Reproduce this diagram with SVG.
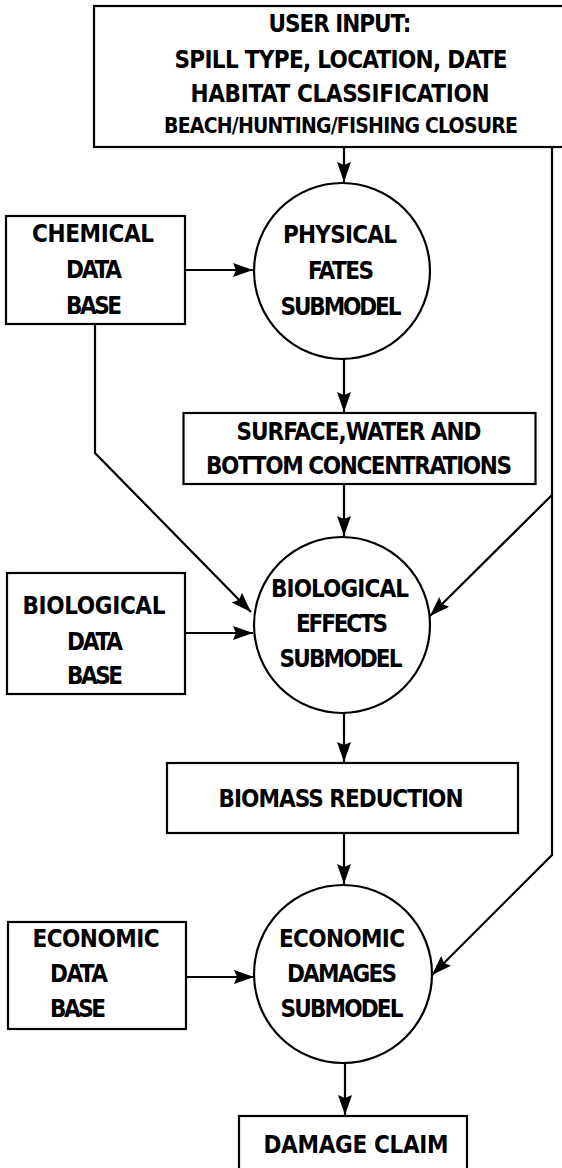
<svg xmlns="http://www.w3.org/2000/svg" width="562" height="1168" viewBox="0 0 562 1168">
<style>
.box{fill:#fff;stroke:#000;stroke-width:2.2}
.c{fill:#fff;stroke:#000;stroke-width:2.2}
.ln{fill:none;stroke:#000;stroke-width:2.2}
text{font-family:"DejaVu Sans Condensed","DejaVu Sans",sans-serif;font-weight:bold;font-size:24px;fill:#000;text-anchor:middle}
.s{font-size:21px}
.l{text-anchor:start}
</style>
<defs>
<marker id="ah" markerUnits="userSpaceOnUse" markerWidth="22" markerHeight="14" refX="20" refY="7" orient="auto">
<path d="M0,0 L20,7 L0,14 L3,7 z" fill="#000"/>
</marker>
</defs>
<g id="connectors">
<line class="ln" x1="344" y1="147" x2="344" y2="182" marker-end="url(#ah)"/>
<line class="ln" x1="185" y1="270" x2="253" y2="270" marker-end="url(#ah)"/>
<line class="ln" x1="344" y1="359" x2="344" y2="412" marker-end="url(#ah)"/>
<line class="ln" x1="344" y1="484" x2="344" y2="536" marker-end="url(#ah)"/>
<path class="ln" d="M95,324 V453 L251,612" marker-end="url(#ah)"/>
<path class="ln" d="M552,147 V855 L432,975" marker-end="url(#ah)"/>
<path class="ln" d="M552,495 L430,616" marker-end="url(#ah)"/>
<line class="ln" x1="185" y1="633" x2="253" y2="633" marker-end="url(#ah)"/>
<line class="ln" x1="344" y1="713" x2="344" y2="762" marker-end="url(#ah)"/>
<line class="ln" x1="344" y1="833" x2="344" y2="884" marker-end="url(#ah)"/>
<line class="ln" x1="186" y1="977" x2="254" y2="977" marker-end="url(#ah)"/>
<line class="ln" x1="345" y1="1063" x2="345" y2="1115" marker-end="url(#ah)"/>
</g>
<g id="user-input">
<rect class="box" x="94" y="6" width="500" height="141"/>
<text x="340" y="32" textLength="143">USER INPUT:</text>
<text x="341" y="68" textLength="333">SPILL TYPE, LOCATION, DATE</text>
<text x="340" y="102" textLength="299">HABITAT CLASSIFICATION</text>
<text class="s" x="341" y="133" textLength="354">BEACH/HUNTING/FISHING CLOSURE</text>
</g>
<g id="chemical-db">
<rect class="box" x="6" y="216" width="179" height="108"/>
<text x="93" y="242" textLength="122">CHEMICAL</text>
<text x="94" y="278" textLength="56">DATA</text>
<text x="94" y="314" textLength="56">BASE</text>
</g>
<g id="physical-fates">
<circle class="c" cx="342" cy="271" r="88"/>
<text x="340" y="243" textLength="114">PHYSICAL</text>
<text x="341" y="279" textLength="66">FATES</text>
<text x="341" y="315" textLength="121">SUBMODEL</text>
</g>
<g id="concentrations">
<rect class="box" x="183.5" y="413" width="352" height="71"/>
<text x="359" y="440" textLength="245">SURFACE,WATER AND</text>
<text x="359" y="474" textLength="306">BOTTOM CONCENTRATIONS</text>
</g>
<g id="biological-db">
<rect class="box" x="7" y="573" width="178" height="121"/>
<text x="94" y="614" textLength="143">BIOLOGICAL</text>
<text x="95" y="650" textLength="56">DATA</text>
<text x="95" y="684" textLength="56">BASE</text>
</g>
<g id="biological-effects">
<circle class="c" cx="342" cy="625" r="88"/>
<text x="340" y="597" textLength="138">BIOLOGICAL</text>
<text x="342" y="632" textLength="92">EFFECTS</text>
<text x="341" y="667" textLength="123">SUBMODEL</text>
</g>
<g id="biomass">
<rect class="box" x="167" y="763" width="351" height="70"/>
<text x="341" y="807" textLength="245">BIOMASS REDUCTION</text>
</g>
<g id="economic-db">
<rect class="box" x="8" y="922" width="178" height="107"/>
<text x="96" y="947" textLength="127">ECONOMIC</text>
<text class="l" x="50" y="982" textLength="58">DATA</text>
<text class="l" x="50" y="1017" textLength="56">BASE</text>
</g>
<g id="economic-damages">
<circle class="c" cx="343" cy="974" r="89"/>
<text x="342" y="947" textLength="126">ECONOMIC</text>
<text x="342" y="982" textLength="110">DAMAGES</text>
<text x="342" y="1017" textLength="123">SUBMODEL</text>
</g>
<g id="damage-claim">
<rect class="box" x="239" y="1116" width="228" height="80"/>
<text x="356" y="1153" textLength="185">DAMAGE CLAIM</text>
</g>
</svg>
